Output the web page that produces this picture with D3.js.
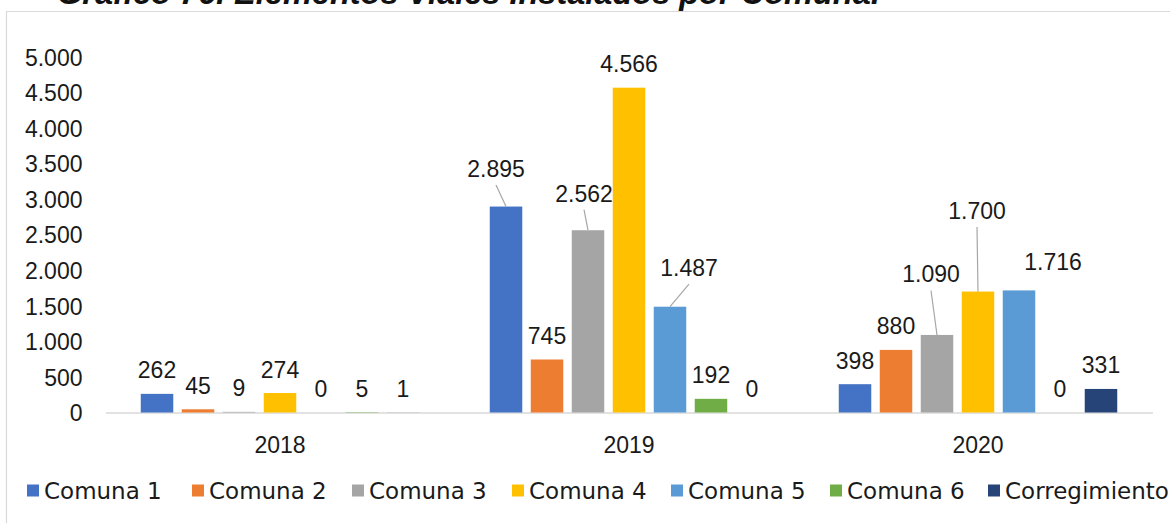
<!DOCTYPE html>
<html lang="es">
<head>
<meta charset="utf-8">
<title>Elementos viales instalados por comuna</title>
<script src="https://cdn.jsdelivr.net/npm/d3@7"></script>
<style>
  html, body { margin: 0; padding: 0; background: #ffffff; overflow: hidden; }
  svg { display: block; }
  text { font-family: "Liberation Sans", Arial, sans-serif; fill: #1a1a1a; }
</style>
</head>
<body>
<svg id="chart" width="1170" height="523"></svg>
<script>
// Years on the category axis
const years = ["2018", "2019", "2020"];

// Series (one bar per comuna inside each year)
const series = ["Comuna 1", "Comuna 2", "Comuna 3", "Comuna 4", "Comuna 5", "Comuna 6", "Corregimiento"];

// Installed road elements per series, in the order of `years`
const comuna1 = [262, 2895, 398];
const comuna2 = [45, 745, 880];
const comuna3 = [9, 2562, 1090];
const comuna4 = [274, 4566, 1700];
const comuna5 = [0, 1487, 1716];
const comuna6 = [5, 192, 0];
const corregimiento = [1, 0, 331];

// Value axis ticks
const yTicks = [0, 500, 1000, 1500, 2000, 2500, 3000, 3500, 4000, 4500, 5000];

const seriesValues = [comuna1, comuna2, comuna3, comuna4, comuna5, comuna6, corregimiento];
const colors = ["#4472C4", "#ED7D31", "#A5A5A5", "#FFC000", "#5B9BD5", "#70AD47", "#264478"];

const locale = d3.formatLocale({ decimal: ",", thousands: ".", grouping: [3], currency: ["$", ""] });
const fmt = locale.format(",d");

const svg = d3.select("#chart");
const W = 1170, H = 523;

// Outer frame of the chart area
svg.append("path")
  .attr("d", `M6.5,${H} V11.5 H${W}`)
  .attr("fill", "none")
  .attr("stroke", "#d9d9d9")
  .attr("stroke-width", 1.2);

// Caption above the frame (its upper part runs past the page edge)
const title = svg.append("text")
  .attr("x", 57)
  .attr("y", 3.5)
  .attr("font-weight", "bold")
  .attr("font-style", "italic")
  .attr("font-size", 26)
  .style("fill", "#111")
  .text("Gráfico 76. Elementos Viales Instalados por Comuna.");
const tw = title.node().getComputedTextLength();
title.attr("font-size", 26 * 823 / tw);

// Scales
const x0 = d3.scaleBand().domain(years).range([105.5, 1152.5]).paddingInner(0).paddingOuter(0);
const x1 = d3.scaleBand().domain(series).range([0, x0.bandwidth()]).paddingInner(0.207).paddingOuter(0.86);
const y = d3.scaleLinear().domain([0, 5000]).range([412.5, 56.8]);

// Value axis labels
const yAxis = d3.axisLeft(y).tickValues(yTicks).tickFormat(fmt).tickSize(0).tickPadding(23);
const gy = svg.append("g").attr("transform", `translate(${x0.range()[0]},0)`).call(yAxis);
gy.select(".domain").remove();
gy.selectAll("text")
  .attr("font-size", 23)
  .attr("fill", "#1a1a1a")
  .attr("dy", "0.36em");

// Category axis
const xAxis = d3.axisBottom(x0).tickSize(0).tickPadding(24);
const gx = svg.append("g").attr("transform", `translate(0,${y(0)})`).call(xAxis);
gx.select(".domain").attr("stroke", "#d9d9d9").attr("stroke-width", 1.5);
gx.selectAll("text")
  .attr("font-size", 23)
  .attr("fill", "#1a1a1a");

// Flatten to one record per bar
const bars = [];
years.forEach((yr, i) => {
  series.forEach((s, j) => {
    bars.push({ year: yr, series: s, value: seriesValues[j][i], color: colors[j] });
  });
});

// Bars
svg.append("g")
  .selectAll("rect")
  .data(bars)
  .join("rect")
  .attr("x", d => x0(d.year) + x1(d.series))
  .attr("y", d => y(d.value))
  .attr("width", x1.bandwidth())
  .attr("height", d => y(0) - y(d.value))
  .attr("fill", d => d.color);

// Data labels; a few are moved clear of their neighbours and tied back with a leader line
const labelNudge = {
  "2019|Comuna 1": [-10, -14, true],
  "2019|Comuna 3": [-4, -13, true],
  "2019|Comuna 5": [19, -15, true],
  "2020|Comuna 3": [-6, -37, true],
  "2020|Comuna 4": [-1, -57, true],
  "2020|Comuna 5": [34, -5, false]
};

const labels = svg.append("g");
bars.forEach(d => {
  const cx = x0(d.year) + x1(d.series) + x1.bandwidth() / 2;
  const top = y(d.value);
  const n = labelNudge[d.year + "|" + d.series] || [0, 0, false];
  const lx = cx + n[0];
  const ly = top - 15.5 + n[1];
  if (n[2]) {
    labels.append("line")
      .attr("x1", lx).attr("y1", ly + 8)
      .attr("x2", cx).attr("y2", top)
      .attr("stroke", "#a6a6a6")
      .attr("stroke-width", 1.2);
  }
  labels.append("text")
    .attr("x", lx)
    .attr("y", ly)
    .attr("text-anchor", "middle")
    .attr("font-size", 23)
    .text(fmt(d.value));
});

// Legend (a wider face for the series names)
const legendX = [27, 192, 352, 512, 671, 830, 988];
const legend = svg.append("g");
series.forEach((s, j) => {
  const g = legend.append("g").attr("transform", `translate(${legendX[j]},0)`);
  g.append("rect")
    .attr("x", 0).attr("y", 484.5)
    .attr("width", 12).attr("height", 12)
    .attr("fill", colors[j]);
  g.append("text")
    .attr("x", 17)
    .attr("y", 498.5)
    .attr("font-size", 23)
    .style("font-family", "\"DejaVu Sans\", sans-serif")
    .text(s);
});
</script>
</body>
</html>
